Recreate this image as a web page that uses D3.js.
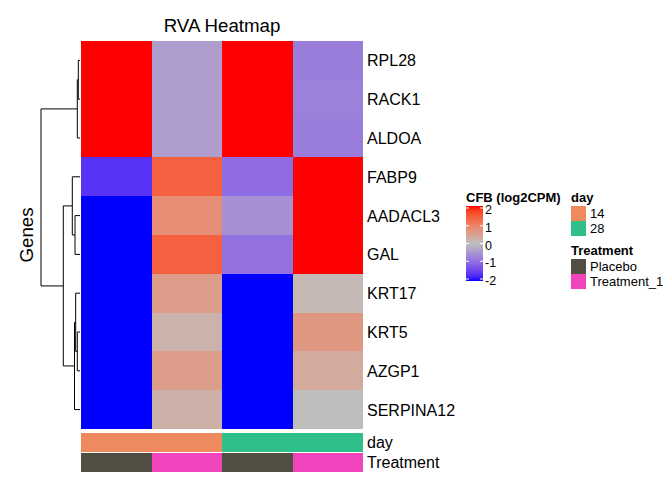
<!DOCTYPE html>
<html>
<head>
<meta charset="utf-8">
<script src="https://cdn.jsdelivr.net/npm/d3@7/dist/d3.min.js"></script>
<style>
	body { margin: 0; background: #fff; }
	svg text { font-family: "Liberation Sans", Arial, sans-serif; fill: #000; }
</style>
</head>
<body>
<div id="chart"></div>
<script>
// --------- data --------- //
var genes = ["RPL28", "RACK1", "ALDOA", "FABP9", "AADACL3", "GAL", "KRT17", "KRT5", "AZGP1", "SERPINA12"];
var samples = ["S1", "S2", "S3", "S4"];
var sampleDay = ["14", "14", "28", "28"];
var sampleTreatment = ["Placebo", "Treatment_1", "Placebo", "Treatment_1"];

// CFB (log2CPM), one row per gene, one value per sample
var cfb = [
	[2.4, -0.4, 2.4, -0.8],
	[2.4, -0.4, 2.4, -0.75],
	[2.4, -0.4, 2.4, -0.8],
	[-1.65, 1.4, -1.0, 2.4],
	[-2.4, 0.8, -0.57, 2.4],
	[-2.4, 1.4, -0.92, 2.4],
	[-2.4, 0.55, -2.4, 0.1],
	[-2.4, 0.2, -2.4, 0.65],
	[-2.4, 0.55, -2.4, 0.35],
	[-2.4, 0.23, -2.4, 0.02]
];

// row clustering, hclust style: numbers point to earlier merges (1-based)
var treeMerges = [
	["RPL28", "RACK1"],
	[1, "ALDOA"],
	["AADACL3", "GAL"],
	["FABP9", 3],
	["KRT5", "AZGP1"],
	["KRT17", 5],
	[6, "SERPINA12"],
	[4, 7],
	[2, 8]
];
var treeHeights = [0.17, 0.27, 0.50, 0.77, 0.27, 0.43, 0.55, 1.67, 3.9];

var legendBreaks = [2, 1, 0, -1, -2];
var dayLevels = ["14", "28"];
var dayColors = ["#EF8A5E", "#2FC08A"];
var treatmentLevels = ["Placebo", "Treatment_1"];
var treatmentColors = ["#524E43", "#EF44BC"];

// --------- chart --------- //
var W = 672, H = 480;
var hm = {left: 81, right: 363, top: 41, bottom: 429};

var svg = d3.select("#chart").append("svg")
	.attr("width", W)
	.attr("height", H);

var color = d3.scaleLinear()
	.domain([-2, 0, 2])
	.range(["#0000FF", "#BEBEBE", "#FF0000"])
	.interpolate(d3.interpolateLab)
	.clamp(true);

var x = d3.scaleBand().domain(samples).range([hm.left, hm.right]);
var y = d3.scaleBand().domain(genes).range([hm.top, hm.bottom]);

// cells
var cells = [];
cfb.forEach(function(row, i){
	row.forEach(function(v, j){
		cells.push({gene: genes[i], sample: samples[j], value: v});
	});
});

svg.append("g").selectAll("rect")
	.data(cells)
	.enter().append("rect")
	.attr("x", function(d){ return x(d.sample); })
	.attr("y", function(d){ return y(d.gene); })
	.attr("width", x.bandwidth())
	.attr("height", y.bandwidth())
	.attr("fill", function(d){ return color(d.value); })
	.attr("shape-rendering", "crispEdges");

// title
svg.append("text")
	.attr("x", (hm.left + hm.right) / 2)
	.attr("y", 31.7)
	.attr("text-anchor", "middle")
	.style("font-size", "18.7px")
	.text("RVA Heatmap");

// row names
svg.append("g").selectAll("text")
	.data(genes)
	.enter().append("text")
	.attr("x", hm.right + 4)
	.attr("y", function(d){ return y(d) + y.bandwidth() / 2; })
	.attr("dy", "0.38em")
	.style("font-size", "16px")
	.text(function(d){ return d; });

// row title
svg.append("text")
	.attr("transform", "translate(33," + ((hm.top + hm.bottom) / 2) + ") rotate(-90)")
	.attr("text-anchor", "middle")
	.style("font-size", "18.7px")
	.text("Genes");

// --------- dendrogram --------- //
var nodes = [];
treeMerges.forEach(function(m, i){
	var kids = m.map(function(c){
		if (typeof c === "number") return nodes[c - 1];
		return {name: c, h: 0};
	});
	nodes.push({h: treeHeights[i], children: kids});
});
var root = d3.hierarchy(nodes[nodes.length - 1]);

var dx = d3.scaleLinear().domain([0, d3.max(treeHeights)]).range([80, 41]);

// leaf y from the rows, node y is the midpoint of its children
root.eachAfter(function(n){
	n.px = dx(n.data.h);
	n.py = n.children
		? d3.mean([n.children[0].py, n.children[n.children.length - 1].py])
		: y(n.data.name) + y.bandwidth() / 2;
});

var dendroPaths = [];
root.each(function(n){
	if (!n.children) return;
	var a = n.children[0], b = n.children[1];
	dendroPaths.push("M" + a.px + "," + a.py + "H" + n.px + "V" + b.py + "H" + b.px);
});

svg.append("g").selectAll("path")
	.data(dendroPaths)
	.enter().append("path")
	.attr("d", function(d){ return d; })
	.attr("fill", "none")
	.attr("stroke", "#000")
	.attr("stroke-width", 1);

// --------- column annotations --------- //
var annos = [
	{name: "day", values: sampleDay, levels: dayLevels, colors: dayColors, y: 433},
	{name: "Treatment", values: sampleTreatment, levels: treatmentLevels, colors: treatmentColors, y: 453}
];
var annoH = 18.7;

annos.forEach(function(a){
	var sc = d3.scaleOrdinal().domain(a.levels).range(a.colors);
	svg.append("g").selectAll("rect")
		.data(samples)
		.enter().append("rect")
		.attr("x", function(d){ return x(d); })
		.attr("y", a.y)
		.attr("width", x.bandwidth())
		.attr("height", annoH)
		.attr("fill", function(d, i){ return sc(a.values[i]); })
		.attr("shape-rendering", "crispEdges");
	svg.append("text")
		.attr("x", hm.right + 4)
		.attr("y", a.y + annoH / 2)
		.attr("dy", "0.38em")
		.style("font-size", "16px")
		.text(a.name);
});

// --------- legends --------- //
var lg = svg.append("g");
var barX = 466, barW = 17, barTop = 206, barBot = 281;
var ly = d3.scaleLinear().domain([-2, 2]).range([279, 208]);

lg.append("text")
	.attr("x", 466)
	.attr("y", 201.5)
	.style("font-size", "13px")
	.style("font-weight", "bold")
	.text("CFB (log2CPM)");

var grad = svg.append("defs").append("linearGradient")
	.attr("id", "cfbGrad")
	.attr("x1", 0).attr("y1", 1)
	.attr("x2", 0).attr("y2", 0);
d3.range(0, 1.0001, 0.05).forEach(function(t){
	grad.append("stop")
		.attr("offset", t)
		.attr("stop-color", color(-2 + 4 * t));
});

lg.append("rect")
	.attr("x", barX)
	.attr("y", barTop)
	.attr("width", barW)
	.attr("height", barBot - barTop)
	.attr("fill", "url(#cfbGrad)");

legendBreaks.forEach(function(b){
	lg.append("line")
		.attr("x1", barX).attr("x2", barX + 3)
		.attr("y1", ly(b)).attr("y2", ly(b))
		.attr("stroke", "#fff");
	lg.append("line")
		.attr("x1", barX + barW - 3).attr("x2", barX + barW)
		.attr("y1", ly(b)).attr("y2", ly(b))
		.attr("stroke", "#fff");
	lg.append("text")
		.attr("x", barX + barW + 2)
		.attr("y", ly(b) + 1.5)
		.attr("dy", "0.36em")
		.style("font-size", "12.5px")
		.text(b);
});

function discreteLegend(title, levels, colors, top){
	lg.append("text")
		.attr("x", 571)
		.attr("y", top)
		.style("font-size", "13px")
		.style("font-weight", "bold")
		.text(title);
	levels.forEach(function(l, i){
		var by = top + 4 + i * 15;
		lg.append("rect")
			.attr("x", 571)
			.attr("y", by)
			.attr("width", 15)
			.attr("height", 15)
			.attr("fill", colors[i])
			.attr("shape-rendering", "crispEdges");
		lg.append("text")
			.attr("x", 590)
			.attr("y", by + 7.5)
			.attr("dy", "0.36em")
			.style("font-size", "13px")
			.text(l);
	});
}

discreteLegend("day", dayLevels, dayColors, 201.5);
discreteLegend("Treatment", treatmentLevels, treatmentColors, 255);
</script>
</body>
</html>
